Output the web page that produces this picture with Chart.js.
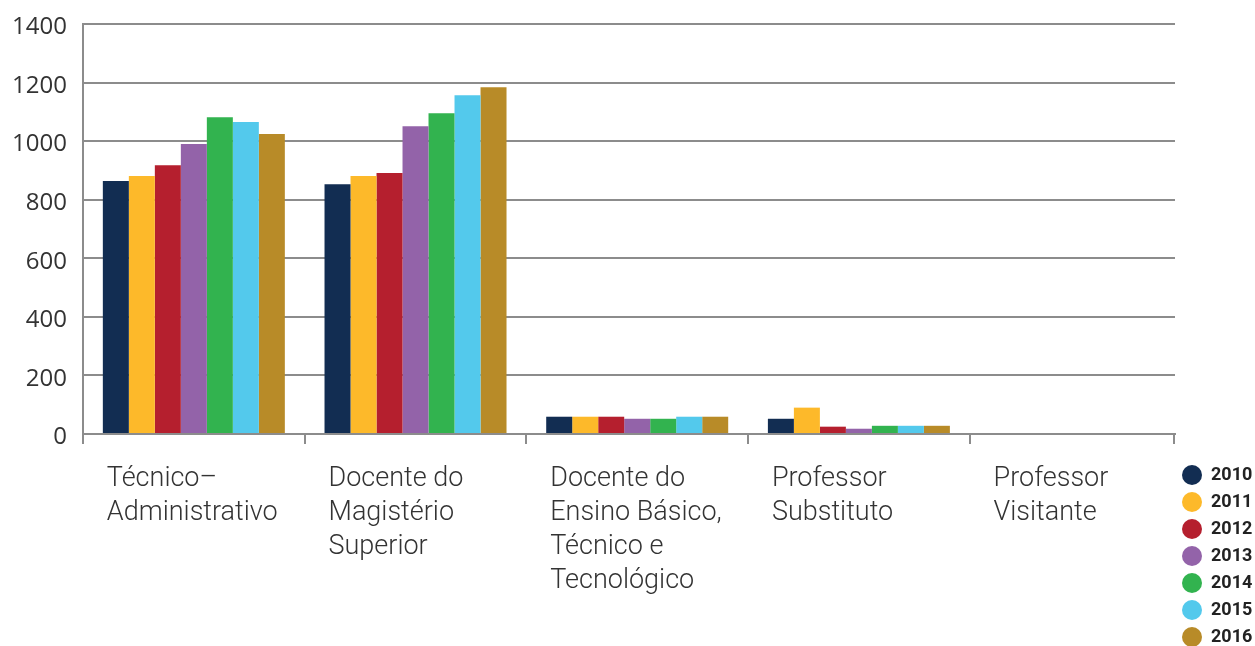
<!DOCTYPE html>
<html>
<head>
<meta charset="utf-8">
<script src="https://cdn.jsdelivr.net/npm/chart.js@4.4.1/dist/chart.umd.min.js"></script>
<style>
  html, body { margin: 0; padding: 0; background: #ffffff; }
  #wrap { width: 1255px; height: 646px; }
</style>
</head>
<body>
<div id="wrap"><canvas id="c" width="1255" height="646"></canvas></div>
<script>
// ---- data ----
const categories = [
  ['Técnico–', 'Administrativo'],
  ['Docente do', 'Magistério', 'Superior'],
  ['Docente do', 'Ensino Básico,', 'Técnico e', 'Tecnológico'],
  ['Professor', 'Substituto'],
  ['Professor', 'Visitante']
];
const years = ['2010', '2011', '2012', '2013', '2014', '2015', '2016'];
const values2010 = [864, 853, 59, 52, 0];
const values2011 = [881, 881, 59, 90, 0];
const values2012 = [918, 891, 59, 25, 0];
const values2013 = [990, 1051, 52, 18, 0];
const values2014 = [1082, 1095, 52, 28, 0];
const values2015 = [1065, 1157, 59, 28, 0];
const values2016 = [1024, 1184, 59, 28, 0];

// ---- styles ----
const colors = ['#122d52', '#fdb92a', '#b51f2e', '#9363a9', '#32b34f', '#53c9ec', '#b88b28'];
const seriesValues = [values2010, values2011, values2012, values2013, values2014, values2015, values2016];
const gridColor = '#8c8c8c';

const datasets = years.map((y, i) => ({
  label: y,
  data: seriesValues[i],
  backgroundColor: colors[i],
  borderWidth: 0,
  barPercentage: 1.0,
  categoryPercentage: 0.821
}));

const endTick = {
  id: 'endTick',
  afterDraw(chart) {
    const a = chart.chartArea, ctx = chart.ctx;
    ctx.save();
    ctx.strokeStyle = gridColor;
    ctx.lineWidth = 2;
    ctx.beginPath();
    ctx.moveTo(a.right - 1, a.bottom);
    ctx.lineTo(a.right - 1, a.bottom + 10);
    ctx.stroke();
    ctx.restore();
  }
};

new Chart(document.getElementById('c'), {
  type: 'bar',
  data: { labels: categories, datasets },
  plugins: [endTick],
  options: {
    responsive: false,
    animation: false,
    layout: { padding: { top: 24, right: 0, bottom: -8, left: 0 } },
    plugins: {
      tooltip: { enabled: false },
      legend: {
        position: 'right',
        align: 'end',
        maxWidth: 80,
        labels: {
          boxWidth: 20,
          boxHeight: 20,
          padding: 7,
          useBorderRadius: true,
          borderRadius: 10,
          color: '#222222',
          font: { family: 'Roboto', size: 18, weight: 'bold' },
          generateLabels: (chart) =>
            Chart.defaults.plugins.legend.labels.generateLabels(chart).map(l => ({ ...l, lineWidth: 0 }))
        }
      }
    },
    scales: {
      x: {
        offset: true,
        afterBuildTicks: (s) => { s._valueRange = 4.926; },
        afterFit: (s) => { s.height = 220; },
        grid: {
          offset: true,
          drawOnChartArea: false,
          drawTicks: true,
          tickLength: 10,
          color: gridColor,
          lineWidth: 2
        },
        border: { display: true, color: gridColor, width: 2 },
        ticks: {
          autoSkip: false,
          maxRotation: 0,
          minRotation: 0,
          align: 'start',
          labelOffset: -87,
          padding: 18.5,
          color: '#333333',
          font: { family: 'Roboto', size: 27, weight: '300', lineHeight: '34px' }
        }
      },
      y: {
        min: 0,
        max: 1400,
        afterFit: (s) => { s.width = 83; s.paddingTop = 0; s.paddingBottom = 0; },
        grid: { color: gridColor, lineWidth: 2, drawTicks: false },
        border: { display: true, color: gridColor, width: 2 },
        ticks: {
          stepSize: 200,
          padding: 16,
          labelOffset: 3.5,
          color: '#333333',
          font: { family: 'Open Sans', size: 24 },
          callback: (v) => String(v)
        }
      }
    }
  }
});
</script>
</body>
</html>
